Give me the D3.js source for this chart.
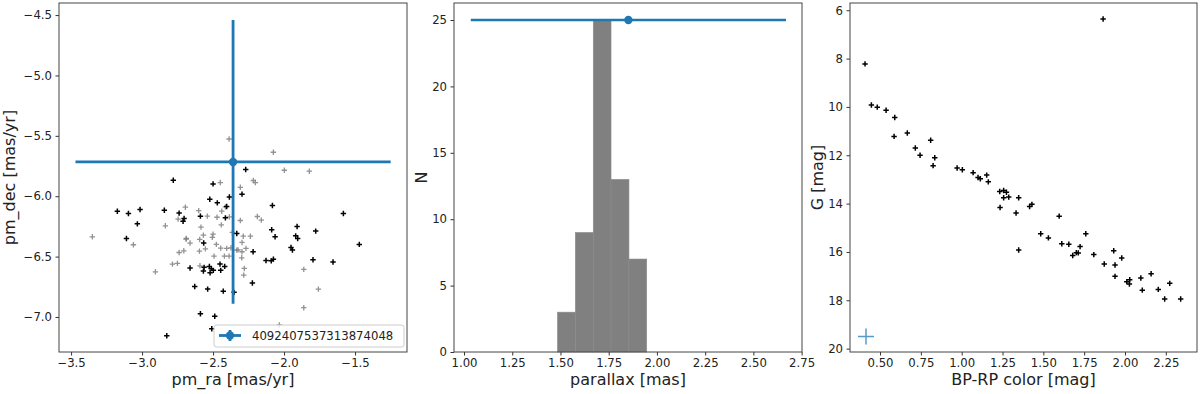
<!DOCTYPE html>
<html lang="en">

<head>
    <meta charset="utf-8">
    <script src='https://d3js.org/d3.v7.min.js'></script>
    <style>
        body { margin: 0; background: white; }
        text { font-family: "DejaVu Sans", sans-serif; }
    </style>
</head>

<body>
    <div class="fig"></div>

    <script>
        // Target star (blue error bars)
        const targetId = "4092407537313874048";
        const targetPmra = -2.359, targetPmraErr = 1.11;
        const targetPmdec = -5.716, targetPmdecErr = 1.175;
        const targetPlx = 1.852, targetPlxErr = 0.817;
        const targetColor = 0.414, targetG = 19.5;

        // Proper motions of members (black) [pm_ra, pm_dec]
        const memberPm = [
            [-2.780, -5.868], [-2.500, -5.898], [-2.270, -5.779], [-2.296, -5.983], [-2.385, -6.006],
            [-2.523, -6.025], [-2.470, -6.055], [-2.404, -6.085], [-3.174, -6.124], [-3.096, -6.143],
            [-3.014, -6.110], [-2.843, -6.116], [-2.739, -6.140], [-2.704, -6.184], [-2.711, -6.207],
            [-3.033, -6.229], [-2.589, -6.165], [-2.413, -6.179], [-3.110, -6.350], [-2.082, -6.077],
            [-1.582, -6.143], [-2.087, -6.278], [-1.908, -6.251], [-1.777, -6.289], [-2.063, -6.336],
            [-1.918, -6.328], [-1.904, -6.350], [-2.333, -6.309], [-1.470, -6.399], [-1.951, -6.424],
            [-1.941, -6.446], [-2.127, -6.532], [-2.090, -6.535], [-2.075, -6.521], [-1.796, -6.526],
            [-1.655, -6.545], [-2.218, -6.460], [-2.223, -6.719], [-2.352, -6.796], [-2.428, -6.786],
            [-2.538, -6.769], [-2.629, -6.747], [-2.589, -6.973], [-2.488, -6.994], [-2.509, -7.097],
            [-2.826, -7.155], [-2.566, -6.388], [-2.662, -6.595], [-2.563, -6.589], [-2.526, -6.581],
            [-2.568, -6.620], [-2.521, -6.634], [-2.498, -6.614], [-2.451, -6.562], [-2.418, -6.581],
            [-2.446, -6.614], [-2.512, -6.600]
        ];

        // Proper motions of other field stars (gray)
        const fieldPm = [
            [-2.387, -5.526], [-2.075, -5.636], [-1.998, -5.785], [-1.822, -5.793], [-2.449, -5.887],
            [-2.308, -5.926], [-2.216, -5.870], [-2.202, -5.887], [-2.695, -6.091], [-2.601, -6.119],
            [-2.540, -6.165], [-2.746, -6.190], [-2.472, -6.174], [-2.439, -6.124], [-2.413, -6.088],
            [-2.385, -6.171], [-2.836, -6.245], [-2.585, -6.256], [-2.442, -6.237], [-3.350, -6.336],
            [-2.688, -6.350], [-2.568, -6.322], [-2.500, -6.314], [-2.505, -6.340], [-2.364, -6.300],
            [-2.188, -6.168], [-2.160, -6.198], [-2.308, -6.201], [-2.287, -6.331], [-2.237, -6.331],
            [-3.061, -6.402], [-2.690, -6.355], [-2.662, -6.388], [-2.594, -6.358], [-2.739, -6.466],
            [-2.706, -6.452], [-2.596, -6.455], [-2.554, -6.436], [-2.493, -6.496], [-2.477, -6.399],
            [-2.446, -6.430], [-2.404, -6.432], [-2.420, -6.496], [-2.387, -6.496], [-2.786, -6.562],
            [-2.751, -6.556], [-2.906, -6.626], [-2.592, -6.576], [-2.333, -6.446], [-2.296, -6.383],
            [-2.324, -6.444], [-2.296, -6.460], [-2.298, -6.510], [-2.268, -6.432], [-2.280, -6.598],
            [-2.284, -6.653], [-1.861, -6.606], [-1.758, -6.769], [-1.861, -6.923], [-2.033, -7.066],
            [-2.374, -6.427]
        ];

        // Parallax histogram
        const plxBinEdges = [1.4845, 1.577, 1.670, 1.762, 1.855, 1.947];
        const plxCounts = [3, 9, 25, 13, 7];

        // Colour-magnitude diagram [BP-RP, G]
        const cmd = [
            [1.866, 6.36], [0.408, 8.22], [0.447, 9.92], [0.483, 10.01], [0.537, 10.14],
            [0.590, 10.44], [0.586, 11.22], [0.667, 11.08], [0.810, 11.38], [0.716, 11.70],
            [0.745, 12.00], [0.835, 12.10], [0.825, 12.43], [0.972, 12.53], [1.004, 12.60],
            [1.070, 12.72], [1.100, 12.92], [1.114, 12.97], [1.153, 12.82], [1.163, 13.10],
            [1.233, 13.50], [1.257, 13.46], [1.274, 13.53], [1.257, 13.76], [1.288, 13.73],
            [1.349, 13.76], [1.235, 14.16], [1.333, 14.39], [1.416, 14.12], [1.430, 14.03],
            [1.597, 14.52], [1.484, 15.25], [1.531, 15.42], [1.760, 15.25], [1.349, 15.92],
            [1.613, 15.66], [1.656, 15.68], [1.725, 15.78], [1.702, 16.03], [1.714, 16.04],
            [1.680, 16.15], [1.809, 16.11], [1.931, 15.95], [1.980, 16.25], [1.873, 16.50],
            [1.939, 16.54], [1.939, 17.01], [2.011, 17.23], [2.029, 17.15], [2.027, 17.33],
            [2.097, 17.08], [2.160, 16.90], [2.106, 17.58], [2.204, 17.55], [2.274, 17.30],
            [2.243, 17.95], [2.341, 17.95]
        ];

        // Tick values
        const pmraTicks = [-3.5, -3.0, -2.5, -2.0, -1.5];
        const pmdecTicks = [-4.5, -5.0, -5.5, -6.0, -6.5, -7.0];
        const plxTicks = [1.00, 1.25, 1.50, 1.75, 2.00, 2.25, 2.50, 2.75];
        const nTicks = [0, 5, 10, 15, 20, 25];
        const colorTicks = [0.50, 0.75, 1.00, 1.25, 1.50, 1.75, 2.00, 2.25];
        const gTicks = [6, 8, 10, 12, 14, 16, 18, 20];

        const blue = "#1f77b4";
        const axTop = 3, axBottom = 352;

        const svg = d3.select(".fig").append("svg")
            .attr("width", 1200)
            .attr("height", 394);

        // plus-shaped marker
        const plus = s => `M${-s},0H${s}M0,${-s}V${s}`;

        // draws ticks, frame and labels for one panel
        function drawAxes(x, y, xTicks, yTicks, xFmt, yFmt, xLabel, yLabel, yLabelX) {
            const [x0, x1] = x.range();
            const gx = svg.append("g")
                .attr("transform", `translate(0,${axBottom})`)
                .call(d3.axisBottom(x).tickValues(xTicks).tickFormat(d3.format(xFmt))
                    .tickSize(3.5).tickPadding(3.5).tickSizeOuter(0));
            const gy = svg.append("g")
                .attr("transform", `translate(${x0},0)`)
                .call(d3.axisLeft(y).tickValues(yTicks).tickFormat(d3.format(yFmt))
                    .tickSize(3.5).tickPadding(3.5).tickSizeOuter(0));
            [gx, gy].forEach(g => {
                g.select(".domain").remove();
                g.selectAll("line").attr("stroke", "#333");
                g.selectAll("text").attr("font-size", 11.7).attr("fill", "#222")
                    .style("font-family", "DejaVu Sans");
            });
            svg.append("rect")
                .attr("x", x0).attr("y", axTop)
                .attr("width", x1 - x0).attr("height", axBottom - axTop)
                .attr("fill", "none").attr("stroke", "#444").attr("stroke-width", 1);
            svg.append("text")
                .attr("x", (x0 + x1) / 2).attr("y", 385)
                .attr("text-anchor", "middle").attr("font-size", 16).attr("fill", "#222")
                .text(xLabel);
            svg.append("text")
                .attr("transform", `translate(${yLabelX},${(axTop + axBottom) / 2}) rotate(-90)`)
                .attr("text-anchor", "middle").attr("font-size", 16).attr("fill", "#222")
                .text(yLabel);
        }

        // ---- Panel 1: proper motions ----
        const x1 = d3.scaleLinear().domain([-3.585, -1.134]).range([59, 407]);
        const y1 = d3.scaleLinear().domain([-7.29, -4.40]).range([axBottom, axTop]);

        svg.append("g").selectAll("path")
            .data(fieldPm).join("path")
            .attr("transform", d => `translate(${x1(d[0])},${y1(d[1])})`)
            .attr("d", plus(2.7)).attr("stroke", "#808080").attr("stroke-width", 1.3)
            .attr("opacity", 0.85);
        svg.append("g").selectAll("path")
            .data(memberPm).join("path")
            .attr("transform", d => `translate(${x1(d[0])},${y1(d[1])})`)
            .attr("d", plus(2.7)).attr("stroke", "black").attr("stroke-width", 1.5);

        // error bars of the target
        svg.append("line")
            .attr("x1", x1(targetPmra - targetPmraErr)).attr("x2", x1(targetPmra + targetPmraErr))
            .attr("y1", y1(targetPmdec)).attr("y2", y1(targetPmdec))
            .attr("stroke", blue).attr("stroke-width", 2.8);
        svg.append("line")
            .attr("x1", x1(targetPmra)).attr("x2", x1(targetPmra))
            .attr("y1", y1(targetPmdec - targetPmdecErr)).attr("y2", y1(targetPmdec + targetPmdecErr))
            .attr("stroke", blue).attr("stroke-width", 2.8);
        svg.append("circle")
            .attr("cx", x1(targetPmra)).attr("cy", y1(targetPmdec)).attr("r", 4.2)
            .attr("fill", blue);

        drawAxes(x1, y1, pmraTicks, pmdecTicks, ".1f", ".1f", "pm_ra [mas/yr]", "pm_dec [mas/yr]", 15);

        // legend
        const leg = svg.append("g").attr("transform", "translate(214,325)");
        leg.append("rect")
            .attr("width", 190).attr("height", 22).attr("rx", 2.5)
            .attr("fill", "white").attr("fill-opacity", 0.8)
            .attr("stroke", "#ccc").attr("stroke-width", 1);
        leg.append("line").attr("x1", 5).attr("x2", 27).attr("y1", 10.5).attr("y2", 10.5)
            .attr("stroke", blue).attr("stroke-width", 2.8);
        leg.append("line").attr("x1", 16).attr("x2", 16).attr("y1", 5).attr("y2", 16)
            .attr("stroke", blue).attr("stroke-width", 2.8);
        leg.append("circle").attr("cx", 16).attr("cy", 10.5).attr("r", 4.2).attr("fill", blue);
        leg.append("text").attr("x", 38).attr("y", 15)
            .attr("font-size", 11.7).attr("fill", "#222").text(targetId);

        // ---- Panel 2: parallax histogram ----
        const x2 = d3.scaleLinear().domain([0.948, 2.752]).range([454, 802]);
        const y2 = d3.scaleLinear().domain([0, 26.28]).range([axBottom, axTop]);

        svg.append("g").selectAll("rect")
            .data(plxCounts).join("rect")
            .attr("x", (d, i) => x2(plxBinEdges[i]))
            .attr("width", (d, i) => x2(plxBinEdges[i + 1]) - x2(plxBinEdges[i]))
            .attr("y", d => y2(d))
            .attr("height", d => y2(0) - y2(d))
            .attr("fill", "#808080").attr("stroke", "#8c8c8c").attr("stroke-width", 0.6);

        svg.append("line")
            .attr("x1", x2(targetPlx - targetPlxErr)).attr("x2", x2(targetPlx + targetPlxErr))
            .attr("y1", y2(25)).attr("y2", y2(25))
            .attr("stroke", blue).attr("stroke-width", 2.3);
        svg.append("circle")
            .attr("cx", x2(targetPlx)).attr("cy", y2(25)).attr("r", 4.2)
            .attr("fill", blue);

        drawAxes(x2, y2, plxTicks, nTicks, ".2f", "d", "parallax [mas]", "N", 427);

        // ---- Panel 3: colour-magnitude diagram ----
        const x3 = d3.scaleLinear().domain([0.316, 2.441]).range([850, 1197]);
        const y3 = d3.scaleLinear().domain([5.70, 20.14]).range([axTop, axBottom]);

        svg.append("g").selectAll("path")
            .data(cmd).join("path")
            .attr("transform", d => `translate(${x3(d[0])},${y3(d[1])})`)
            .attr("d", plus(2.7)).attr("stroke", "black").attr("stroke-width", 1.5);

        svg.append("path")
            .attr("transform", `translate(${x3(targetColor)},${y3(targetG)})`)
            .attr("d", plus(8)).attr("stroke", blue).attr("stroke-width", 1.5)
            .attr("opacity", 0.75).attr("fill", "none");

        drawAxes(x3, y3, colorTicks, gTicks, ".2f", "d", "BP-RP color [mag]", "G [mag]", 823);
    </script>
</body>

</html>
